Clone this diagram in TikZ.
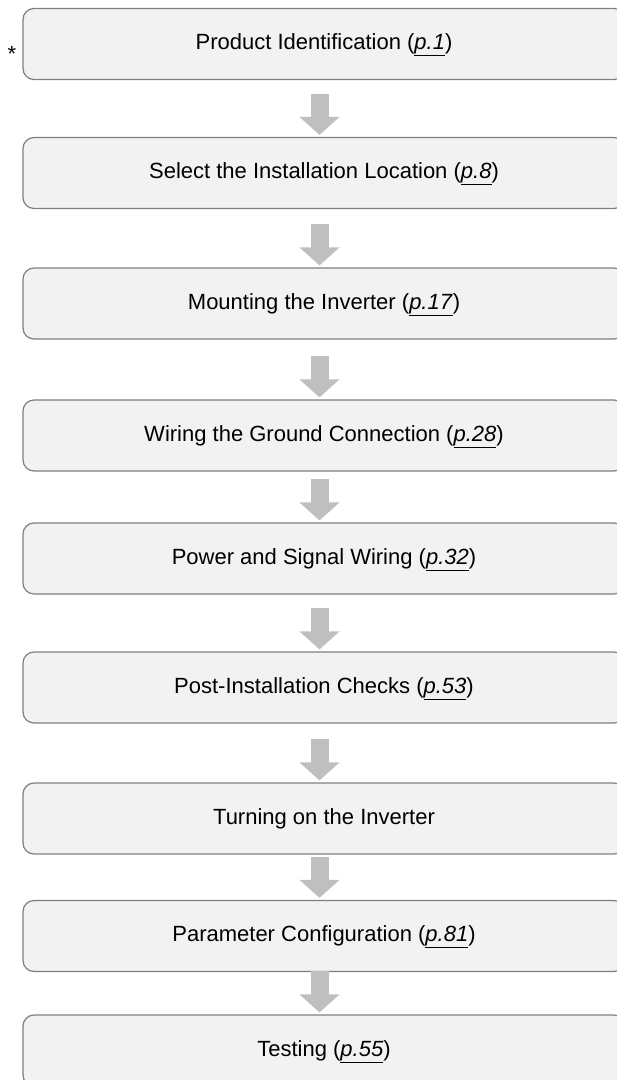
\documentclass[tikz,border=0pt]{standalone}
\usepackage{fontspec}
\setmainfont{Liberation Sans}
\usetikzlibrary{arrows.meta}

\definecolor{boxfill}{HTML}{F2F2F2}
\definecolor{boxline}{HTML}{7F7F7F}
\definecolor{arrowgray}{HTML}{BFBFBF}

\newcommand{\pg}[1]{(\underline{\textit{#1}})}

\tikzset{
  stepbox/.style={draw=boxline, fill=boxfill, line width=1.2pt, rounded corners=11pt,
    minimum width=602pt, minimum height=71pt, inner sep=0pt,
    text height=16pt, text depth=4.6pt, font=\fontsize{22}{26}\selectfont},
  flowarrow/.style={arrowgray, line width=18pt, -{Triangle[width=39pt,length=18pt]}}
}

\begin{document}
\begin{tikzpicture}[x=1pt,y=1pt]
\useasboundingbox (0,0) rectangle (617,-1080);

\node[stepbox] (b1) at (324,-44) {Product Identification \pg{p.1}};
\node[stepbox] (b2) at (324,-173) {Select the Installation Location \pg{p.8}};
\node[stepbox] (b3) at (324,-303.5) {Mounting the Inverter \pg{p.17}};
\node[stepbox] (b4) at (324,-435.5) {Wiring the Ground Connection \pg{p.28}};
\node[stepbox] (b5) at (324,-558.5) {Power and Signal Wiring \pg{p.32}};
\node[stepbox] (b6) at (324,-687.5) {Post-Installation Checks \pg{p.53}};
\node[stepbox] (b7) at (324,-818.5) {Turning on the Inverter};
\node[stepbox] (b8) at (324,-936) {Parameter Configuration \pg{p.81}};
\node[stepbox] (b9) at (324,-1050.5) {Testing \pg{p.55}};

\node[anchor=base, font=\fontsize{22}{26}\selectfont] (star) at (12,-61) {*};

% arrows between the steps
\foreach \b in {b2,b3,b4,b5,b6,b7,b8,b9}
  \draw[flowarrow] ([xshift=-4.5pt,yshift=43pt]\b.north) -- ([xshift=-4.5pt,yshift=2pt]\b.north);
\end{tikzpicture}
\end{document}
